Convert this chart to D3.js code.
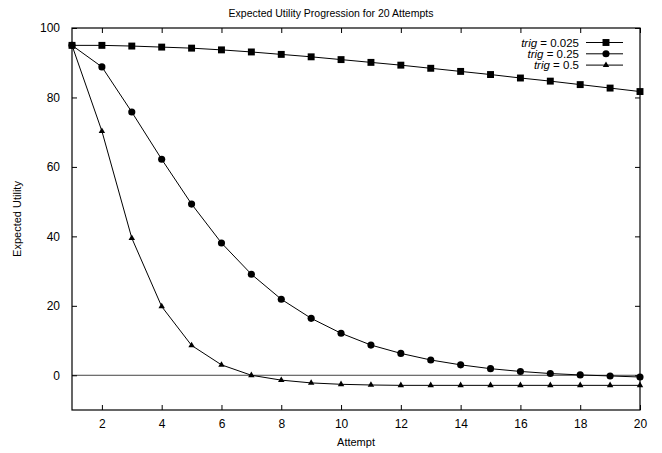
<!DOCTYPE html>
<html lang="en">
<head>
  <meta charset="UTF-8">
  <title>Expected Utility Progression</title>
  <style>
    body { margin: 0; background: #fff; }
    text { font-family: "Liberation Sans", Arial, sans-serif; fill: #000; }
  </style>
</head>
<body>

  <svg id="svg" width="662" height="453"></svg>

  <script src="https://d3js.org/d3.v7.min.js"></script>
  <script>

    // data
    const attempts = d3.range(1, 21)
    const trig025  = [95, 95.0, 94.8, 94.5, 94.2, 93.7, 93.1, 92.4, 91.7, 90.9, 90.1, 89.3, 88.4, 87.5, 86.6, 85.6, 84.7, 83.7, 82.7, 81.7]
    const trig25   = [95, 88.8, 75.8, 62.2, 49.3, 38.1, 29.1, 21.9, 16.4, 12.1, 8.7, 6.3, 4.4, 3.0, 1.9, 1.1, 0.5, 0.1, -0.2, -0.5]
    const trig5    = [95, 70.3, 39.5, 19.8, 8.6, 3.0, 0.0, -1.4, -2.2, -2.6, -2.8, -2.9, -2.9, -2.9, -2.9, -2.9, -2.9, -2.9, -2.9, -2.9]
    const seriesLabels = ['0.025', '0.25', '0.5']
    const xTicks = [2, 4, 6, 8, 10, 12, 14, 16, 18, 20]
    const yTicks = [0, 20, 40, 60, 80, 100]

    const series = [
      { label: seriesLabels[0], values: trig025, shape: d3.symbolSquare, size: 48 },
      { label: seriesLabels[1], values: trig25,  shape: d3.symbolCircle, size: 40 },
      { label: seriesLabels[2], values: trig5,   shape: d3.symbolTriangle, size: 18 }
    ]

    const svg = d3.select('#svg')
    const mLeft = 72, mRight = 640, mTop = 28, mBottom = 410

    const xScale = d3.scaleLinear()
      .domain([1, 20])
      .range([mLeft, mRight])

    const yScale = d3.scaleLinear()
      .domain([-10, 100])
      .range([mBottom, mTop])

    // title
    svg.append('text')
      .attr('x', 331).attr('y', 17)
      .attr('text-anchor', 'middle')
      .attr('font-size', 10.5)
      .text('Expected Utility Progression for 20 Attempts')

    // zero axis
    svg.append('line')
      .attr('x1', mLeft).attr('x2', mRight)
      .attr('y1', yScale(0)).attr('y2', yScale(0))
      .attr('stroke', '#444').attr('stroke-width', 1)

    // axes with inward ticks, mirrored on top and right
    const tickLen = 5
    svg.append('g')
      .attr('transform', `translate(0,${mBottom})`)
      .call(d3.axisBottom(xScale).tickValues(xTicks).tickSizeInner(-tickLen).tickSizeOuter(0).tickPadding(9))
    svg.append('g')
      .attr('transform', `translate(0,${mTop})`)
      .call(d3.axisTop(xScale).tickValues(xTicks).tickSizeInner(-tickLen).tickSizeOuter(0).tickFormat(''))
    svg.append('g')
      .attr('transform', `translate(${mLeft},0)`)
      .call(d3.axisLeft(yScale).tickValues(yTicks).tickSizeInner(-tickLen).tickSizeOuter(0).tickPadding(12))
    svg.append('g')
      .attr('transform', `translate(${mRight},0)`)
      .call(d3.axisRight(yScale).tickValues(yTicks).tickSizeInner(-tickLen).tickSizeOuter(0).tickFormat(''))

    svg.selectAll('.domain').remove()
    svg.selectAll('.tick line').attr('stroke', '#000')
    svg.selectAll('.tick text').attr('font-size', 12).attr('font-family', '"Liberation Sans", Arial, sans-serif')

    // frame
    svg.append('rect')
      .attr('x', mLeft).attr('y', mTop)
      .attr('width', mRight - mLeft).attr('height', mBottom - mTop)
      .attr('fill', 'none').attr('stroke', '#000').attr('stroke-width', 1.2)

    // axis labels
    svg.append('text')
      .attr('x', (mLeft + mRight) / 2).attr('y', 446)
      .attr('text-anchor', 'middle')
      .attr('font-size', 11)
      .text('Attempt')
    svg.append('text')
      .attr('transform', `translate(21,${(mTop + mBottom) / 2}) rotate(-90)`)
      .attr('text-anchor', 'middle')
      .attr('font-size', 11)
      .text('Expected Utility')

    const line = d3.line()
      .x((d, i) => xScale(attempts[i]))
      .y(d => yScale(d))

    series.forEach(s => {
      svg.append('path')
        .datum(s.values)
        .attr('d', line)
        .attr('fill', 'none')
        .attr('stroke', '#000')
        .attr('stroke-width', 1)

      svg.append('g')
        .selectAll('path')
        .data(s.values)
        .enter()
        .append('path')
        .attr('d', d3.symbol().type(s.shape).size(s.size))
        .attr('transform', (d, i) => `translate(${xScale(attempts[i])},${yScale(d)})`)
        .attr('fill', '#000')
    })

    // legend
    const legend = svg.append('g')
    series.forEach((s, i) => {
      const y = 42.5 + i * 11.3
      const t = legend.append('text')
        .attr('x', 579).attr('y', y + 4)
        .attr('text-anchor', 'end')
        .attr('font-size', 11.5)
      t.append('tspan').attr('font-style', 'italic').text('trig')
      t.append('tspan').text(' = ' + s.label)
      legend.append('line')
        .attr('x1', 586).attr('x2', 623)
        .attr('y1', y).attr('y2', y)
        .attr('stroke', '#000')
      legend.append('path')
        .attr('d', d3.symbol().type(s.shape).size(s.size))
        .attr('transform', `translate(606,${y})`)
        .attr('fill', '#000')
    })

  </script>
</body>
</html>
